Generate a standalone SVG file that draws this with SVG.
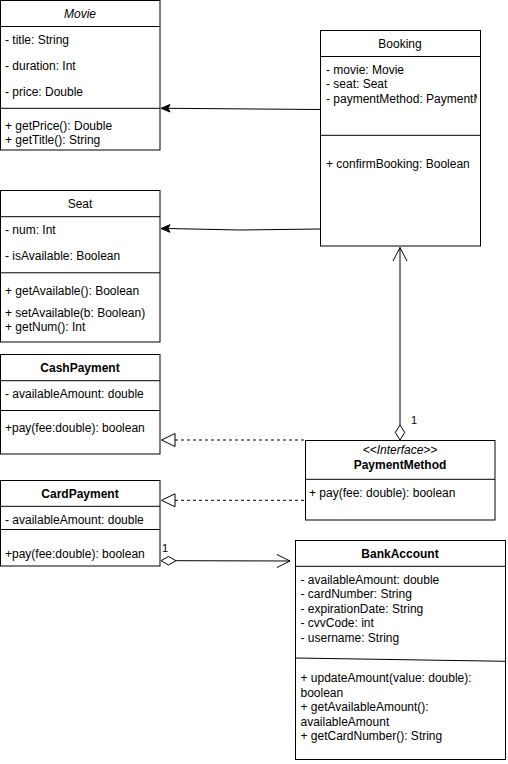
<svg xmlns="http://www.w3.org/2000/svg" width="508" height="764" viewBox="0 0 508 764">
<style>
.box{fill:#fff;stroke:#000;stroke-width:1}
.ln{stroke:#000;stroke-width:1;fill:none}
.t{font-family:"Liberation Sans",Arial,sans-serif;font-size:12px;fill:#000}
.c{text-anchor:middle}
.b{font-weight:bold}
.i{font-style:italic}
.dash{stroke-dasharray:3 3}
.lbl{font-family:"Liberation Sans",Arial,sans-serif;font-size:11px;fill:#000}
</style>
<defs>
<clipPath id="bkclip"><rect x="320" y="56" width="157" height="80"/></clipPath>
</defs>
<g id="connectors">
<line class="ln" x1="320" y1="109.5" x2="168" y2="108.3"/>
<polygon points="161,108.3 170,104.5 168,108.3 170,112" fill="#000" stroke="#000"/>
<polyline class="ln" points="320,229 240,230 168,228.5"/>
<polygon points="161,228.5 170,224.7 168,228.5 170,232.3" fill="#000" stroke="#000"/>
<text class="lbl" x="322" y="225">1</text>
<line class="ln" x1="400" y1="425" x2="400" y2="247.5"/>
<polyline class="ln" points="393,261 400,247.5 407,261"/>
<polygon class="box" points="400,440 404.7,432.5 400,425 395.3,432.5"/>
<text class="lbl" x="411" y="424">1</text>
<line class="ln dash" x1="175" y1="440" x2="305" y2="440"/>
<polygon class="box" points="161.5,440 175,433.5 175,446.5"/>
<line class="ln dash" x1="175" y1="500.3" x2="311" y2="500.3"/>
<polygon class="box" points="161.5,500.3 175,493.8 175,506.8"/>
<line class="ln" x1="176" y1="560.7" x2="290" y2="561"/>
<polygon class="box" points="161,560.7 168.5,556.5 176,560.7 168.5,565"/>
<polyline class="ln" points="277,554.5 290,561 277,567.5"/>
<text class="lbl" x="162" y="552">1</text>
</g>
<g id="movie">
<rect class="box" x="0.5" y="0.5" width="159.5" height="149.5"/>
<line class="ln" x1="0.5" y1="26.5" x2="160" y2="26.5"/>
<line class="ln" x1="0.5" y1="108.3" x2="160" y2="108.3"/>
<text class="t c i" x="80" y="18">Movie</text>
<text class="t" x="5" y="44.3">- title: String</text>
<text class="t" x="5" y="70">- duration: Int</text>
<text class="t" x="5" y="96">- price: Double</text>
<text class="t" x="5" y="130">+ getPrice(): Double</text>
<text class="t" x="5" y="144">+ getTitle(): String</text>
</g>
<g id="booking">
<rect class="box" x="320.5" y="30.5" width="160" height="215.5"/>
<line class="ln" x1="320.5" y1="56.5" x2="480.5" y2="56.5"/>
<line class="ln" x1="320.5" y1="135.3" x2="480.5" y2="135.3"/>
<text class="t c" x="400" y="48.3">Booking</text>
<g clip-path="url(#bkclip)">
<text class="t" x="326" y="73.5">- movie: Movie</text>
<text class="t" x="326" y="88">- seat: Seat</text>
<text class="t" x="326" y="102.5">- paymentMethod: PaymentMethod</text>
</g>
<text class="t" x="326" y="168">+ confirmBooking: Boolean</text>
</g>
<g id="seat">
<rect class="box" x="0.5" y="190.5" width="159.5" height="151.5"/>
<line class="ln" x1="0.5" y1="216.7" x2="160" y2="216.7"/>
<line class="ln" x1="0.5" y1="272.8" x2="160" y2="272.8"/>
<text class="t c" x="80" y="208.3">Seat</text>
<text class="t" x="5" y="234">- num: Int</text>
<text class="t" x="5" y="260">- isAvailable: Boolean</text>
<text class="t" x="5" y="294.5">+ getAvailable(): Boolean</text>
<text class="t" x="5" y="316.5">+ setAvailable(b: Boolean)</text>
<text class="t" x="5" y="330.5">+ getNum(): Int</text>
</g>
<g id="cashpayment">
<rect class="box" x="0.5" y="354.5" width="159.5" height="99.5"/>
<line class="ln" x1="0.5" y1="380.7" x2="160" y2="380.7"/>
<line class="ln" x1="0.5" y1="410.5" x2="160" y2="410.5"/>
<text class="t c b" x="80" y="372">CashPayment</text>
<text class="t" x="5" y="397.5">- availableAmount: double</text>
<text class="t" x="5" y="432">+pay(fee:double): boolean</text>
</g>
<g id="cardpayment">
<rect class="box" x="0.5" y="480.5" width="159.5" height="85.5"/>
<line class="ln" x1="0.5" y1="506.3" x2="160" y2="506.3"/>
<line class="ln" x1="0.5" y1="529.5" x2="160" y2="529.5"/>
<text class="t c b" x="80" y="498.3">CardPayment</text>
<text class="t" x="5" y="523.8">- availableAmount: double</text>
<text class="t" x="5" y="557.5">+pay(fee:double): boolean</text>
</g>
<g id="paymentmethod">
<rect class="box" x="305.5" y="440.5" width="189.5" height="79.5"/>
<line class="ln" x1="305.5" y1="479.3" x2="495" y2="479.3"/>
<text class="t c i" x="400" y="453.5">&lt;&lt;Interface&gt;&gt;</text>
<text class="t c b" x="400" y="468.5">PaymentMethod</text>
<text class="t" x="309" y="497">+ pay(fee: double): boolean</text>
</g>
<g id="bankaccount">
<rect class="box" x="295.5" y="540.5" width="210" height="219"/>
<line class="ln" x1="295.5" y1="566.3" x2="505.5" y2="566.3"/>
<line class="ln" x1="295.5" y1="658" x2="505.5" y2="661.3"/>
<text class="t c b" x="400" y="557.5">BankAccount</text>
<text class="t" x="300.5" y="583.5">- availableAmount: double</text>
<text class="t" x="300.5" y="598">- cardNumber: String</text>
<text class="t" x="300.5" y="612.5">- expirationDate: String</text>
<text class="t" x="300.5" y="627">- cvvCode: int</text>
<text class="t" x="300.5" y="641.5">- username: String</text>
<text class="t" x="300.5" y="682">+ updateAmount(value: double):</text>
<text class="t" x="300.5" y="696.5">boolean</text>
<text class="t" x="300.5" y="711">+ getAvailableAmount():</text>
<text class="t" x="300.5" y="725.5">availableAmount</text>
<text class="t" x="300.5" y="740">+ getCardNumber(): String</text>
</g>
</svg>
